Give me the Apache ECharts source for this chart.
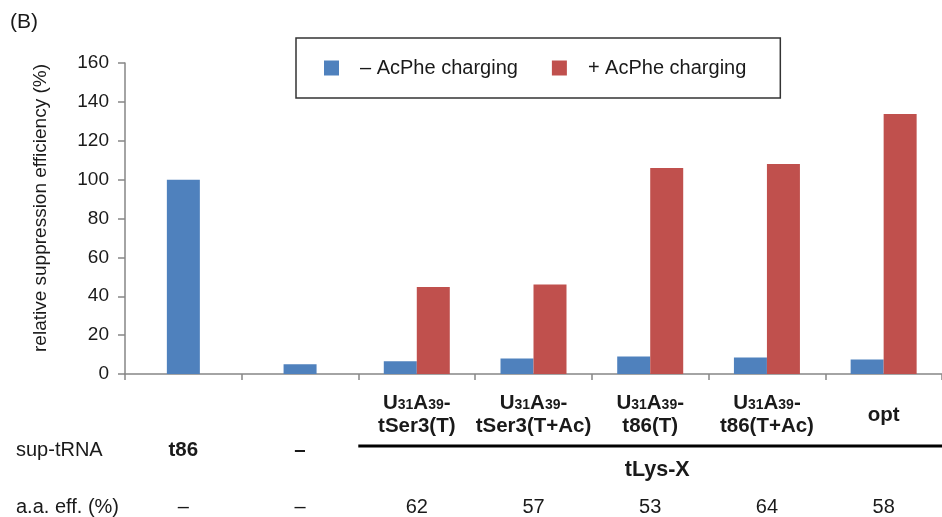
<!DOCTYPE html>
<html><head><meta charset="utf-8">
<script src="https://cdn.jsdelivr.net/npm/echarts@6/dist/echarts.min.js"></script>
<style>html,body{margin:0;padding:0;background:#fff}#c{width:942px;height:517px}</style>
</head><body><div id="c"></div>
<script>
// ---- data ----
const categories = ['t86', '–', 'U31A39-tSer3(T)', 'U31A39-tSer3(T+Ac)', 'U31A39-t86(T)', 'U31A39-t86(T+Ac)', 'opt'];
const catLabels = ['', '',
  '{b|U}{s|31}{b|A}{s|39}{b|-}\n{b|tSer3(T)}',
  '{b|U}{s|31}{b|A}{s|39}{b|-}\n{b|tSer3(T+Ac)}',
  '{b|U}{s|31}{b|A}{s|39}{b|-}\n{b|t86(T)}',
  '{b|U}{s|31}{b|A}{s|39}{b|-}\n{b|t86(T+Ac)}',
  '{b|opt}'];
const supRow = ['t86', '–', '', '', '', '', ''];
const groupRow = ['', '', '', '', 'tLys-X', '', ''];
const effRow = ['–', '–', '62', '57', '53', '64', '58'];
const controlValues = [100, 5, null, null, null, null, null];
const minusValues = [null, null, 6.5, 8, 9, 8.5, 7.5];
const plusValues = [null, null, 44.7, 46, 106, 108, 133.7];
const seriesNames = ['– AcPhe charging', '+ AcPhe charging'];
const yTicks = {min: 0, max: 160, interval: 20};

const FONT = '"Liberation Sans", Arial, sans-serif';
const BLUE = '#4F81BD', RED = '#C0504D', AXIS = '#868686', TXT = '#1a1a1a';
const FS = 20, FSB = 20.5;

const chart = echarts.init(document.getElementById('c'), null, {renderer: 'canvas'});
const hiddenAxis = (data, margin, bold, size, pad) => ({
  type: 'category', gridIndex: 0, data: data, position: 'bottom',
  axisLine: {show: false}, axisTick: {show: false}, splitLine: {show: false},
  axisLabel: {interval: 0, margin: margin, verticalAlign: 'middle', fontSize: size,
    fontFamily: FONT, color: TXT, fontWeight: bold ? 'bold' : 'normal',
    padding: pad || 0,
    formatter: (v, i) => data[i]}
});
const option = {
  backgroundColor: '#fff',
  animation: false,
  textStyle: {fontFamily: FONT},
  grid: {left: 125, top: 63, width: 819, height: 311, containLabel: false},
  legend: {
    left: 296, top: 38, padding: [20, 34, 20, 28],
    itemWidth: 15, itemHeight: 15, itemGap: 34, icon: 'rect',
    borderColor: '#333', borderWidth: 1.5,
    data: seriesNames,
    textStyle: {fontSize: FS, fontFamily: FONT, color: TXT, padding: [0, 0, 0, 16]}
  },
  xAxis: [
    {
      type: 'category', data: categories, position: 'bottom',
      axisLine: {lineStyle: {color: AXIS, width: 1.5}},
      axisTick: {show: true, interval: 0, length: 6, lineStyle: {color: AXIS, width: 1.5}},
      axisLabel: {interval: 0, margin: 41, verticalAlign: 'middle', align: 'center',
        formatter: (v, i) => catLabels[i],
        rich: {
          b: {fontSize: FSB, fontWeight: 'bold', fontFamily: FONT, color: TXT, lineHeight: 23},
          s: {fontSize: 14, fontWeight: 'bold', fontFamily: FONT, color: TXT, lineHeight: 23, verticalAlign: 'bottom', padding: [0, 0, 3, 0]}
        }}
    },
    hiddenAxis(supRow, 76, true, FSB),
    hiddenAxis(groupRow, 96, true, 21.5, [0, 0, 0, 14]),
    hiddenAxis(effRow, 133, false, FS)
  ],
  yAxis: {
    type: 'value', min: yTicks.min, max: yTicks.max, interval: yTicks.interval,
    axisLine: {show: true, lineStyle: {color: AXIS, width: 1.5}},
    axisTick: {show: true, length: 7, lineStyle: {color: AXIS, width: 1.5}},
    splitLine: {show: false},
    axisLabel: {fontSize: 19, fontFamily: FONT, color: TXT, margin: 16}
  },
  series: [
    {name: seriesNames[0], type: 'bar', xAxisIndex: 0, data: minusValues, barWidth: 33, barGap: '0%', itemStyle: {color: BLUE}},
    {name: seriesNames[1], type: 'bar', xAxisIndex: 0, data: plusValues, barWidth: 33, barGap: '0%', itemStyle: {color: RED}},
    {name: seriesNames[0], type: 'bar', xAxisIndex: 1, data: controlValues, barWidth: 33, itemStyle: {color: BLUE}}
  ],
  graphic: [
    {type: 'text', x: 10, y: 22, style: {text: '(B)', fontSize: 21, fontFamily: FONT, fill: TXT, verticalAlign: 'middle'}},
    {type: 'text', x: 41, y: 208, rotation: Math.PI / 2,
      style: {text: 'relative suppression efficiency (%)', fontSize: 19, fontFamily: FONT, fill: TXT, align: 'center', verticalAlign: 'middle'}},
    {type: 'text', x: 16, y: 450, style: {text: 'sup-tRNA', fontSize: FS, fontFamily: FONT, fill: TXT, verticalAlign: 'middle'}},
    {type: 'text', x: 16, y: 507, style: {text: 'a.a. eff. (%)', fontSize: FS, fontFamily: FONT, fill: TXT, verticalAlign: 'middle'}}
  ]
};
chart.setOption(option);
// group bracket line under the tLys-X categories
const xStart = chart.convertToPixel({xAxisIndex: 0}, categories[2]) - 117 / 2;
const xEnd = chart.convertToPixel({xAxisIndex: 0}, categories[6]) + 117 / 2;
chart.setOption({graphic: option.graphic.concat([
  {type: 'line', shape: {x1: xStart, y1: 446, x2: xEnd, y2: 446}, style: {stroke: '#000', lineWidth: 3}}
])});
</script>
</body></html>
